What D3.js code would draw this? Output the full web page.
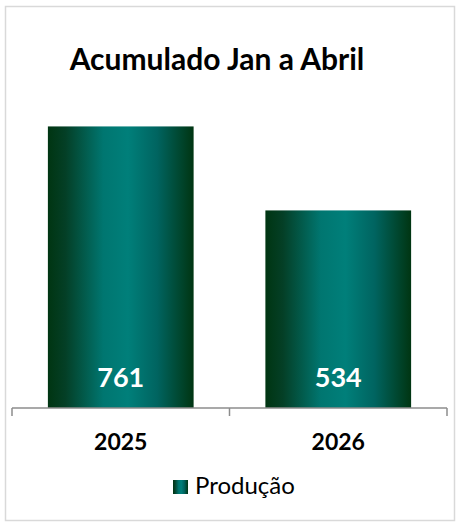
<!DOCTYPE html>
<html>
<head>
<meta charset="utf-8">
<script src="https://cdn.jsdelivr.net/npm/d3@7"></script>
<style>
  body { margin: 0; background: #fff; }
  text { font-family: Lato, "Open Sans", sans-serif; }
</style>
</head>
<body>
<div id="chart"></div>
<script>
const width = 461,
    height = 526;

// Data
const categories = ["2025", "2026"];
const values = [761, 534];
const seriesName = "Produção";
const title = "Acumulado Jan a Abril";

let svg = d3.select('#chart').append('svg')
    .attr('width', width)
    .attr('height', height);

// Horizontal gradient used by the bars and the legend key
let defs = svg.append("defs");
let grad = defs.append("linearGradient")
    .attr("id", "barGrad")
    .attr("x1", "0%").attr("x2", "100%")
    .attr("y1", "0%").attr("y2", "0%");
grad.append("stop").attr("offset", "0%").attr("stop-color", "#003512");
grad.append("stop").attr("offset", "12%").attr("stop-color", "#043f26");
grad.append("stop").attr("offset", "38%").attr("stop-color", "#007670");
grad.append("stop").attr("offset", "55%").attr("stop-color", "#007f7a");
grad.append("stop").attr("offset", "75%").attr("stop-color", "#006460");
grad.append("stop").attr("offset", "100%").attr("stop-color", "#003512");

// Chart frame
svg.append("rect")
    .attr("x", 5.5).attr("y", 6.5)
    .attr("width", 449).attr("height", 514)
    .attr("fill", "#fff")
    .attr("stroke", "#d9d9d9")
    .attr("stroke-width", 1.5);

svg.append("text")
    .attr("x", 217)
    .attr("y", 70)
    .attr("text-anchor", "middle")
    .style("font-size", "30px")
    .style("font-weight", "bold")
    .attr("fill", "#000")
    .text(title);

let x = d3.scaleBand()
    .domain(categories)
    .range([12, 447])
    .paddingInner(0.33)
    .paddingOuter(0.165);

let y = d3.scaleLinear()
    .domain([0, 800])
    .range([408, 112]);

// Bars
svg.append("g")
    .selectAll("rect")
    .data(values)
    .enter()
    .append("rect")
    .attr("x", (d, i) => x(categories[i]))
    .attr("y", d => y(d))
    .attr("width", x.bandwidth())
    .attr("height", d => y(0) - y(d))
    .attr("fill", "url(#barGrad)");

// Value labels inside the bars
svg.append("g")
    .selectAll("text")
    .data(values)
    .enter()
    .append("text")
    .attr("x", (d, i) => x(categories[i]) + x.bandwidth() / 2)
    .attr("y", 387)
    .attr("text-anchor", "middle")
    .style("font-size", "27px")
    .style("font-weight", "bold")
    .attr("fill", "#fff")
    .text(d => d);

// Category axis with tick marks between the groups
let axis = d3.axisBottom(x).tickSize(0).tickFormat("");
let gx = svg.append("g")
    .attr("transform", "translate(0," + y(0) + ")")
    .call(axis);
gx.select(".domain").remove();
gx.append("line")
    .attr("x1", 12).attr("x2", 447)
    .attr("stroke", "#8c8c8c").attr("stroke-width", 1.5);
let step = x.step();
gx.selectAll(".sep")
    .data(d3.range(categories.length + 1))
    .enter()
    .append("line")
    .attr("x1", i => 12 + i * step)
    .attr("x2", i => 12 + i * step)
    .attr("y1", 0).attr("y2", 8)
    .attr("stroke", "#8c8c8c").attr("stroke-width", 1.5);

svg.append("g")
    .selectAll("text")
    .data(categories)
    .enter()
    .append("text")
    .attr("x", d => x(d) + x.bandwidth() / 2)
    .attr("y", 450)
    .attr("text-anchor", "middle")
    .style("font-size", "23px")
    .style("font-weight", "bold")
    .attr("fill", "#000")
    .text(d => d);

// Legend
let legend = svg.append("g");
legend.append("rect")
    .attr("x", 173).attr("y", 480)
    .attr("width", 15).attr("height", 14)
    .attr("fill", "url(#barGrad)");
legend.append("text")
    .attr("x", 195)
    .attr("y", 494)
    .style("font-size", "24px")
    .attr("fill", "#000")
    .text(seriesName);
</script>
</body>
</html>
